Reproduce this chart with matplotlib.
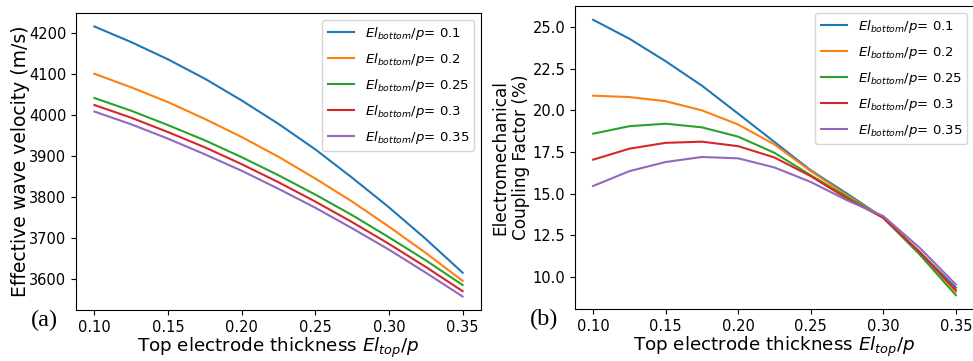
import matplotlib
matplotlib.use("Agg")
import matplotlib.pyplot as plt

# top electrode thickness El_top/p
x = [0.100, 0.125, 0.150, 0.175, 0.200, 0.225, 0.250, 0.275, 0.300, 0.325, 0.350]

labels = [r'$El_{bottom}/p$= 0.1', r'$El_{bottom}/p$= 0.2', r'$El_{bottom}/p$= 0.25',
          r'$El_{bottom}/p$= 0.3', r'$El_{bottom}/p$= 0.35']

# (a) effective wave velocity (m/s)
v_01 = [4215, 4177, 4135, 4088, 4035, 3978, 3916, 3847, 3775, 3698, 3616]
v_02 = [4100, 4067, 4031, 3990, 3946, 3898, 3845, 3789, 3728, 3664, 3596]
v_025 = [4041, 4010, 3975, 3938, 3897, 3853, 3806, 3756, 3702, 3646, 3586]
v_03 = [4024, 3993, 3958, 3921, 3880, 3836, 3789, 3739, 3686, 3630, 3571]
v_035 = [4008, 3977, 3942, 3904, 3864, 3820, 3774, 3724, 3672, 3616, 3558]

# (b) electromechanical coupling factor (%)
k_01 = [25.44, 24.3, 22.95, 21.48, 19.8, 18.1, 16.4, 15.0, 13.55, 11.5, 9.35]
k_02 = [20.88, 20.8, 20.55, 20.0, 19.15, 17.95, 16.35, 14.9, 13.55, 11.45, 9.1]
k_025 = [18.6, 19.05, 19.2, 18.98, 18.42, 17.45, 16.1, 14.8, 13.55, 11.35, 8.9]
k_03 = [17.04, 17.7, 18.05, 18.12, 17.85, 17.17, 16.05, 14.7, 13.55, 11.5, 9.2]
k_035 = [15.46, 16.35, 16.9, 17.2, 17.12, 16.57, 15.7, 14.6, 13.65, 11.75, 9.54]

W, H = 973, 361
fig = plt.figure(figsize=(W / 100, H / 100), dpi=100)

ax1 = fig.add_axes([76 / W, 51 / H, 405 / W, 297 / H])
for v, lab in zip([v_01, v_02, v_025, v_03, v_035], labels):
    ax1.plot(x, v, label=lab, lw=1.5)
ax1.set_xticks([0.10, 0.15, 0.20, 0.25, 0.30, 0.35])
ax1.set_yticks([3600, 3700, 3800, 3900, 4000, 4100, 4200])
ax1.tick_params(labelsize=10.5)
ax1.set_xlabel(r'Top electrode thickness $El_{top}/p$', fontsize=13.2, labelpad=0.5)
ax1.set_ylabel('Effective wave velocity (m/s)', fontsize=13.5, labelpad=-1)
ax1.legend(loc='upper right', fontsize=9.5, labelspacing=0.68)

ax2 = fig.add_axes([575 / W, 52 / H, 399 / W, 303 / H])
for k, lab in zip([k_01, k_02, k_025, k_03, k_035], labels):
    ax2.plot(x, k, label=lab, lw=1.5)
ax2.set_xticks([0.10, 0.15, 0.20, 0.25, 0.30, 0.35])
ax2.set_yticks([10.0, 12.5, 15.0, 17.5, 20.0, 22.5, 25.0])
ax2.tick_params(labelsize=10.5)
ax2.set_xlabel(r'Top electrode thickness $El_{top}/p$', fontsize=13.2, labelpad=0.5)
ax2.set_ylabel('Electromechanical\nCoupling Factor (%)', fontsize=12.2, labelpad=1.5)
ax2.legend(loc='upper right', fontsize=9.5, labelspacing=0.68)

fig.text(44 / W, 1 - 320 / H, '(a)', family='Liberation Serif', fontsize=17.5,
         ha='center', va='center')
fig.text(544 / W, 1 - 319 / H, '(b)', family='Liberation Serif', fontsize=17.5,
         ha='center', va='center')

fig.savefig('out.png', dpi=100)
